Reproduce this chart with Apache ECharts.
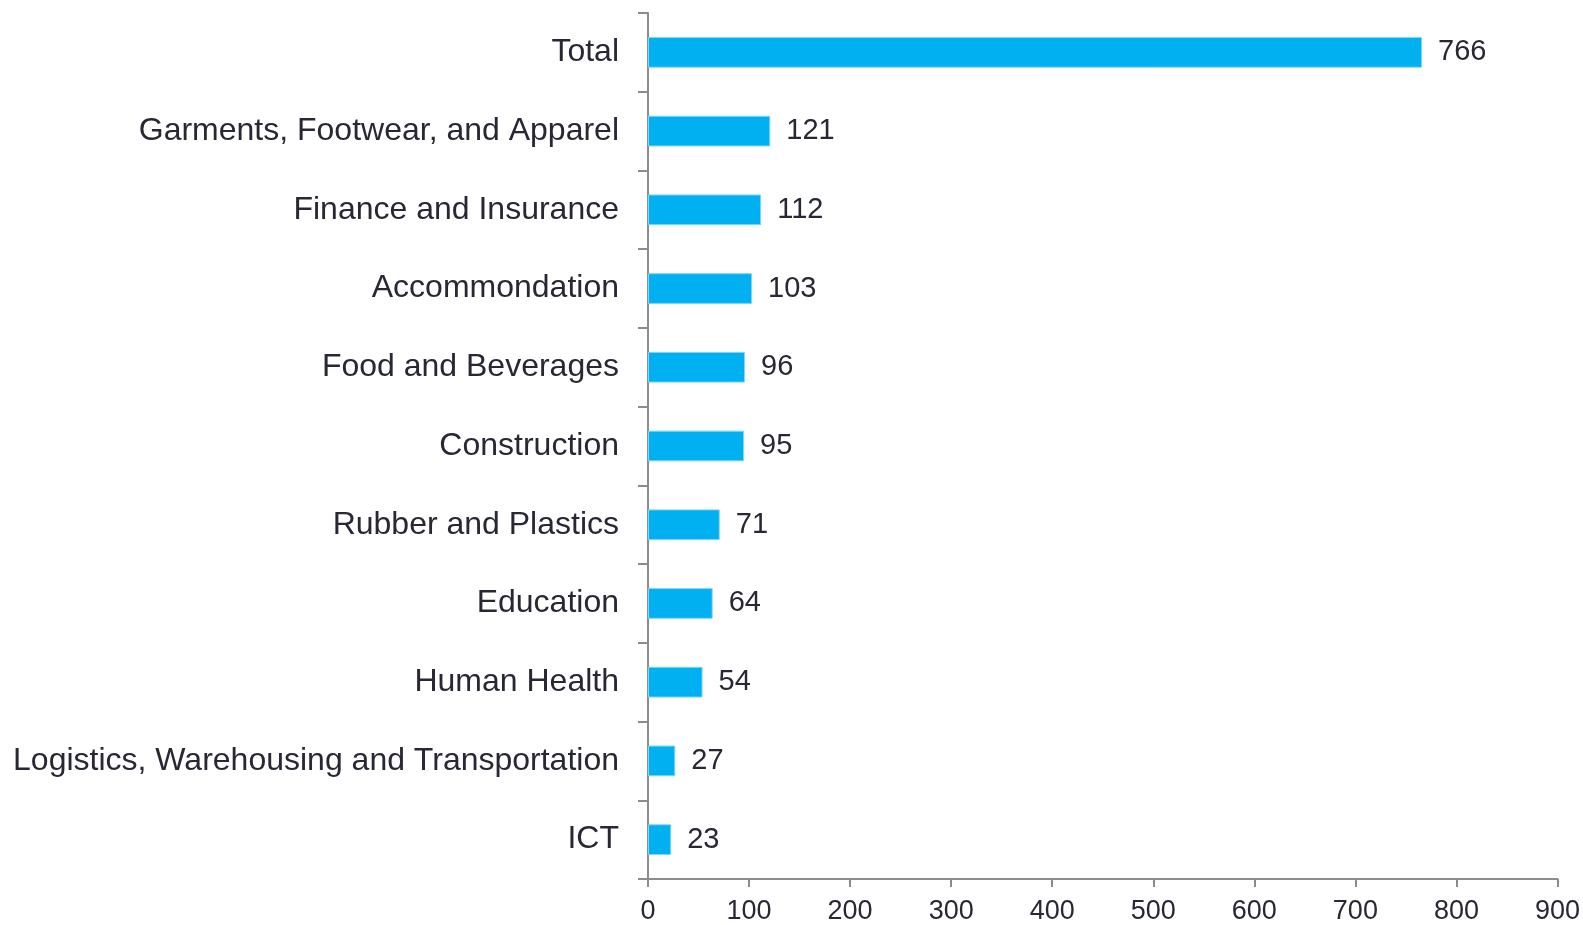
<!DOCTYPE html>
<html>
<head>
<meta charset="utf-8">
<script src="https://cdn.jsdelivr.net/npm/echarts@6/dist/echarts.min.js"></script>
<style>
  html, body { margin: 0; padding: 0; background: #fff; }
  #main { width: 1583px; height: 925px; }
</style>
</head>
<body>
<div id="main"></div>
<script>
var myChart = echarts.init(document.getElementById('main'));

// categories listed bottom to top (category axis starts at the bottom)
var sectors = [
    'ICT',
    'Logistics, Warehousing and Transportation',
    'Human Health',
    'Education',
    'Rubber and Plastics',
    'Construction',
    'Food and Beverages',
    'Accommondation',
    'Finance and Insurance',
    'Garments, Footwear, and Apparel',
    'Total'
];
var counts = [23, 27, 54, 64, 71, 95, 96, 103, 112, 121, 766];

var textColor = '#282834';
var axisColor = '#8c8c8c';
var fontFamily = '"Liberation Sans", Arial, sans-serif';

var option = {
    textStyle: { fontFamily: fontFamily },
    grid: {
        left: 648,
        right: 24,
        top: 13,
        bottom: 45,
        containLabel: false
    },
    xAxis: {
        type: 'value',
        min: 0,
        max: 900,
        interval: 100,
        axisLine: { show: true, lineStyle: { color: axisColor, width: 2 } },
        axisTick: { show: true, length: 8, lineStyle: { color: axisColor, width: 2 } },
        splitLine: { show: false },
        axisLabel: {
            color: textColor,
            fontSize: 27,
            fontFamily: fontFamily,
            margin: 19
        }
    },
    yAxis: {
        type: 'category',
        data: sectors,
        axisLine: { show: true, lineStyle: { color: axisColor, width: 2 } },
        axisTick: { show: true, length: 10, lineStyle: { color: axisColor, width: 2 } },
        axisLabel: {
            color: textColor,
            fontSize: 32,
            fontFamily: fontFamily,
            margin: 29
        }
    },
    series: [{
        type: 'bar',
        data: counts,
        barWidth: '39%',
        itemStyle: {
            color: '#00b0f0',
            borderColor: '#7fd6f7',
            borderWidth: 1
        },
        label: {
            show: true,
            position: 'right',
            distance: 16,
            color: textColor,
            fontSize: 29,
            fontFamily: fontFamily
        }
    }]
};

myChart.setOption(option);
window.onresize = function () {
    myChart.resize();
};
</script>
</body>
</html>
